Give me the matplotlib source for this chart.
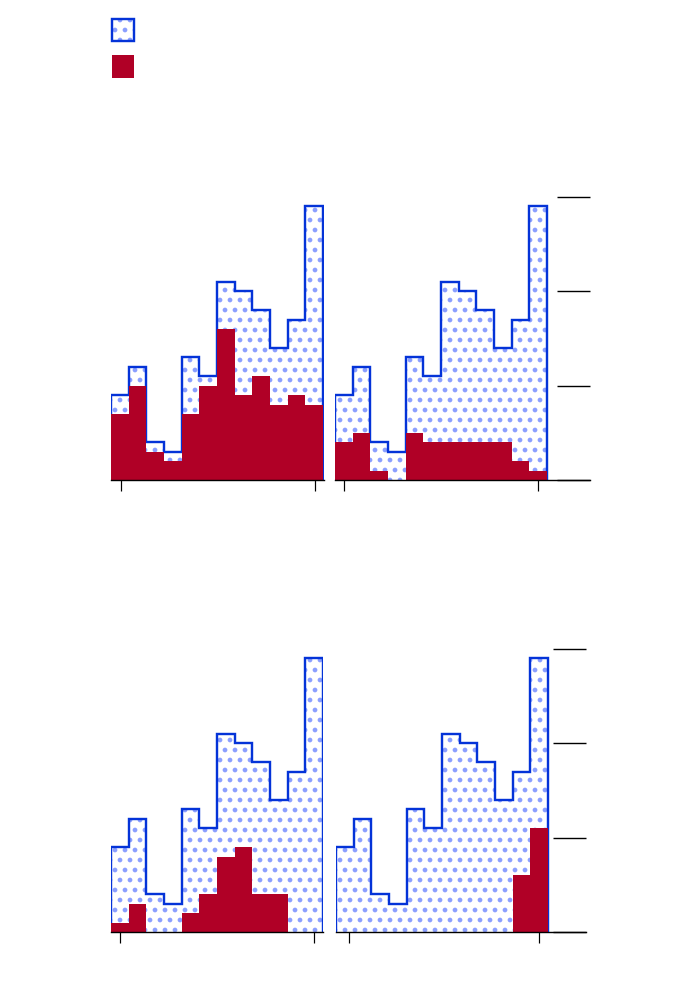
import matplotlib
matplotlib.use('Agg')
import matplotlib.pyplot as plt
from matplotlib.patches import Patch

# Bin edges shared by all four panels (12 bins).
bin_edges = [0, 1, 2, 3, 4, 5, 6, 7, 8, 9, 10, 11, 12]

# Total counts, drawn as the dotted background in every panel.
all_counts = [9, 12, 4, 3, 13, 11, 21, 20, 18, 14, 17, 29]

# Highlighted subset for each panel (top-left, top-right, bottom-left, bottom-right).
sub_top_left = [7, 10, 3, 2, 7, 10, 16, 9, 11, 8, 9, 8]
sub_top_right = [4, 5, 1, 0, 5, 4, 4, 4, 4, 4, 2, 1]
sub_bottom_left = [1, 3, 0, 0, 2, 4, 8, 9, 4, 4, 0, 0]
sub_bottom_right = [0, 0, 0, 0, 0, 0, 0, 0, 0, 0, 6, 11]

y_ticks = [0, 10, 20, 30]
x_ticks_top_left = [0.57, 11.55]
x_ticks_top_right = [0.51, 11.49]
x_ticks_bottom_left = [0.51, 11.49]
x_ticks_bottom_right = [0.74, 11.49]

outline_blue = '#0433d8'
dot_blue = '#8b9fff'
sub_red = '#b00026'

DPI = 120  # hatch tile is DPI pixels wide, 120 gives ~10px dot spacing
W, H = 690, 988
BIN_PX = 212 / 12  # on-screen width of one bin


def pt(px):
    # pixel size -> points at this dpi
    return px * 72 / DPI


# filled dots, thickened so they read as ~4.5px discs
plt.rcParams['hatch.linewidth'] = pt(2.7)

# small epsilon so int() of the canvas size does not drop a pixel
fig = plt.figure(figsize=((W + 0.01) / DPI, (H + 0.01) / DPI), dpi=DPI)


def px_axes(left, right, top, bottom):
    return fig.add_axes([left / W, 1 - bottom / H, (right - left) / W, (bottom - top) / H])


# (pixel box, subset, x ticks)
panels = [
    ((111, 324, 197, 480), sub_top_left, x_ticks_top_left),
    ((335, 590, 197, 480), sub_top_right, x_ticks_top_right),
    ((111, 323, 649, 932), sub_bottom_left, x_ticks_bottom_left),
    ((336, 586, 649, 932), sub_bottom_right, x_ticks_bottom_right),
]

for i, ((left, right, top, bottom), sub, xt) in enumerate(panels):
    right_col = i % 2 == 1
    ax = px_axes(left, right, top, bottom)
    # dotted background of the totals
    ax.stairs(all_counts, bin_edges, fill=True, facecolor='white',
              edgecolor=dot_blue, hatch='..', linewidth=0, zorder=1)
    # step outline of the totals
    ax.stairs(all_counts, bin_edges, color=outline_blue, linewidth=pt(2.4), zorder=2)
    # highlighted subset
    ax.stairs(sub, bin_edges, fill=True, color=sub_red, linewidth=0, zorder=3)

    ax.set_xlim(0, (right - left) / BIN_PX)
    ax.set_ylim(0, 30)

    for s in ['top', 'left', 'right']:
        ax.spines[s].set_visible(False)
    ax.spines['bottom'].set_linewidth(pt(1.4))
    ax.spines['bottom'].set_color('black')
    ax.spines['bottom'].set_zorder(4)

    ax.set_xticks(xt)
    ax.tick_params(axis='x', length=pt(11), width=pt(1.2), color='black',
                   labelbottom=False)
    if right_col:
        ax.set_yticks(y_ticks)
        ax.tick_params(axis='y', left=False, right=True, direction='in',
                       length=pt(33), width=pt(1.4), color='black',
                       labelleft=False, labelright=False)
    else:
        ax.set_yticks([])
    ax.patch.set_alpha(0)

# legend with two unlabelled swatches
dots_handle = Patch(facecolor='white', edgecolor=dot_blue, hatch='..', linewidth=0)
outline_handle = Patch(facecolor='none', edgecolor=outline_blue, linewidth=pt(2.4))
red_handle = Patch(facecolor=sub_red, edgecolor='none')
fig.legend(handles=[(dots_handle, outline_handle), red_handle], labels=['', ''],
           loc='upper left', bbox_to_anchor=(112 / W, 1 - 19 / H),
           frameon=False, fontsize=pt(13.9), handlelength=1.6, handleheight=2.1,
           borderpad=0, borderaxespad=0, labelspacing=1.0, handletextpad=0)

fig.savefig('out.png', dpi=DPI)
